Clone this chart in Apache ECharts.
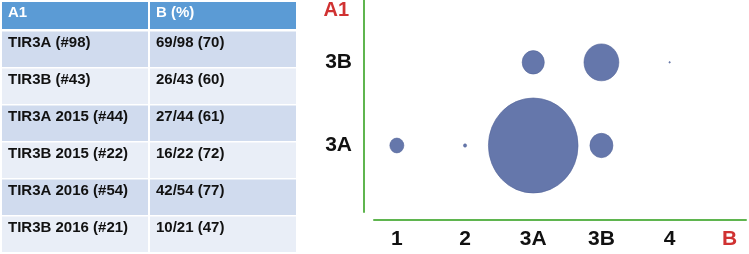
<!DOCTYPE html>
<html>
<head>
<meta charset="utf-8">
<script src="https://cdn.jsdelivr.net/npm/echarts@6/dist/echarts.min.js"></script>
<style>
html,body{margin:0;padding:0;background:#fff;}
#chart{width:749px;height:254px;}
</style>
</head>
<body>
<div id="chart"></div>
<script>
// ---- Data ----
var tableHeader = ['A1', 'B (%)'];
var tableCol1 = ['TIR3A (#98)', 'TIR3B (#43)', 'TIR3A 2015 (#44)', 'TIR3B 2015 (#22)', 'TIR3A 2016 (#54)', 'TIR3B 2016 (#21)'];
var tableCol2 = ['69/98 (70)', '26/43 (60)', '27/44 (61)', '16/22 (72)', '42/54 (77)', '10/21 (47)'];

var xCategories = ['1', '2', '3A', '3B', '4'];
var yCategories = ['3A', '3B'];
var xAxisTitle = 'B';
var yAxisTitle = 'A1';

var bubbleX = ['1', '2', '3A', '3B', '3A', '3B', '4'];
var bubbleY = ['3A', '3A', '3A', '3A', '3B', '3B', '3B'];
var bubbleValue = [1, 0.05, 41, 2.7, 2.5, 6.2, 0.01];

// ---- Build ----
(function () {
var FONT = 'Liberation Sans, Arial, sans-serif';
var points = bubbleX.map(function (x, i) {
  return [xCategories.indexOf(x), yCategories.indexOf(bubbleY[i]), bubbleValue[i]];
});

var graphics = [];
var colX = [2, 150], colW = [146, 146];
for (var c = 0; c < 2; c++) {
  graphics.push({ type: 'rect', shape: { x: colX[c], y: 2, width: colW[c], height: 27 }, style: { fill: '#5b9bd5' }, silent: true });
  graphics.push({ type: 'text', x: colX[c] + 6, y: 12.5, style: { text: tableHeader[c], fill: '#ffffff', font: 'bold 15px ' + FONT, verticalAlign: 'middle' }, silent: true });
}
for (var r = 0; r < tableCol1.length; r++) {
  var rowTop = 31.5 + r * 37;
  var fill = (r % 2 === 0) ? '#d0dbee' : '#e9eef7';
  var texts = [tableCol1[r], tableCol2[r]];
  for (var c2 = 0; c2 < 2; c2++) {
    graphics.push({ type: 'rect', shape: { x: colX[c2], y: rowTop, width: colW[c2], height: 35.5 }, style: { fill: fill }, silent: true });
    graphics.push({ type: 'text', x: colX[c2] + 6, y: rowTop + 11, style: { text: texts[c2], fill: '#111111', font: 'bold 15px ' + FONT, verticalAlign: 'middle' }, silent: true });
  }
}

var chart = echarts.init(document.getElementById('chart'), null, { renderer: 'canvas' });
var green = '#5fb54f';
var red = '#d03232';
chart.setOption({
  animation: false,
  backgroundColor: '#ffffff',
  graphic: graphics,
  grid: { left: 374, right: 0, top: 0, bottom: 42 },
  xAxis: {
    type: 'value', min: -0.335, max: 5.12, offset: 8,
    axisLine: { show: true, onZero: false, lineStyle: { color: green, width: 2 } },
    axisTick: { show: false }, splitLine: { show: false },
    axisLabel: {
      margin: 9, fontSize: 21, fontWeight: 'bold', color: '#111111', fontFamily: FONT,
      formatter: function (v) { var i = Math.round(v); return Math.abs(v - i) < 1e-6 && xCategories[i] !== undefined ? xCategories[i] : ''; }
    },
    name: xAxisTitle, nameLocation: 'end', nameGap: -24,
    nameTextStyle: { color: red, fontSize: 21, fontWeight: 'bold', fontFamily: FONT, align: 'left', verticalAlign: 'top', padding: [9, 0, 0, 0] }
  },
  yAxis: {
    type: 'value', min: -0.8, max: 1.75, offset: 10,
    axisLine: { show: true, onZero: false, lineStyle: { color: green, width: 2 } },
    axisTick: { show: false }, splitLine: { show: false },
    axisLabel: {
      margin: 12, fontSize: 21, fontWeight: 'bold', color: '#111111', fontFamily: FONT,
      formatter: function (v) { var i = Math.round(v); return Math.abs(v - i) < 1e-6 && yCategories[i] !== undefined ? yCategories[i] : ''; }
    },
    name: yAxisTitle, nameLocation: 'end', nameGap: 0,
    nameTextStyle: { color: red, fontSize: 20, fontWeight: 'bold', fontFamily: FONT, align: 'right', verticalAlign: 'top', padding: [0, 15, 0, 0] }
  },
  series: [{
    type: 'scatter',
    data: points,
    symbol: 'circle',
    symbolSize: function (d) { var s = 14 * Math.sqrt(d[2]); return [s, s * 1.06]; },
    itemStyle: { color: '#6577ab', borderColor: '#55669a', borderWidth: 0.6, opacity: 1 },
    clip: false
  }]
});
})();
</script>
</body>
</html>
